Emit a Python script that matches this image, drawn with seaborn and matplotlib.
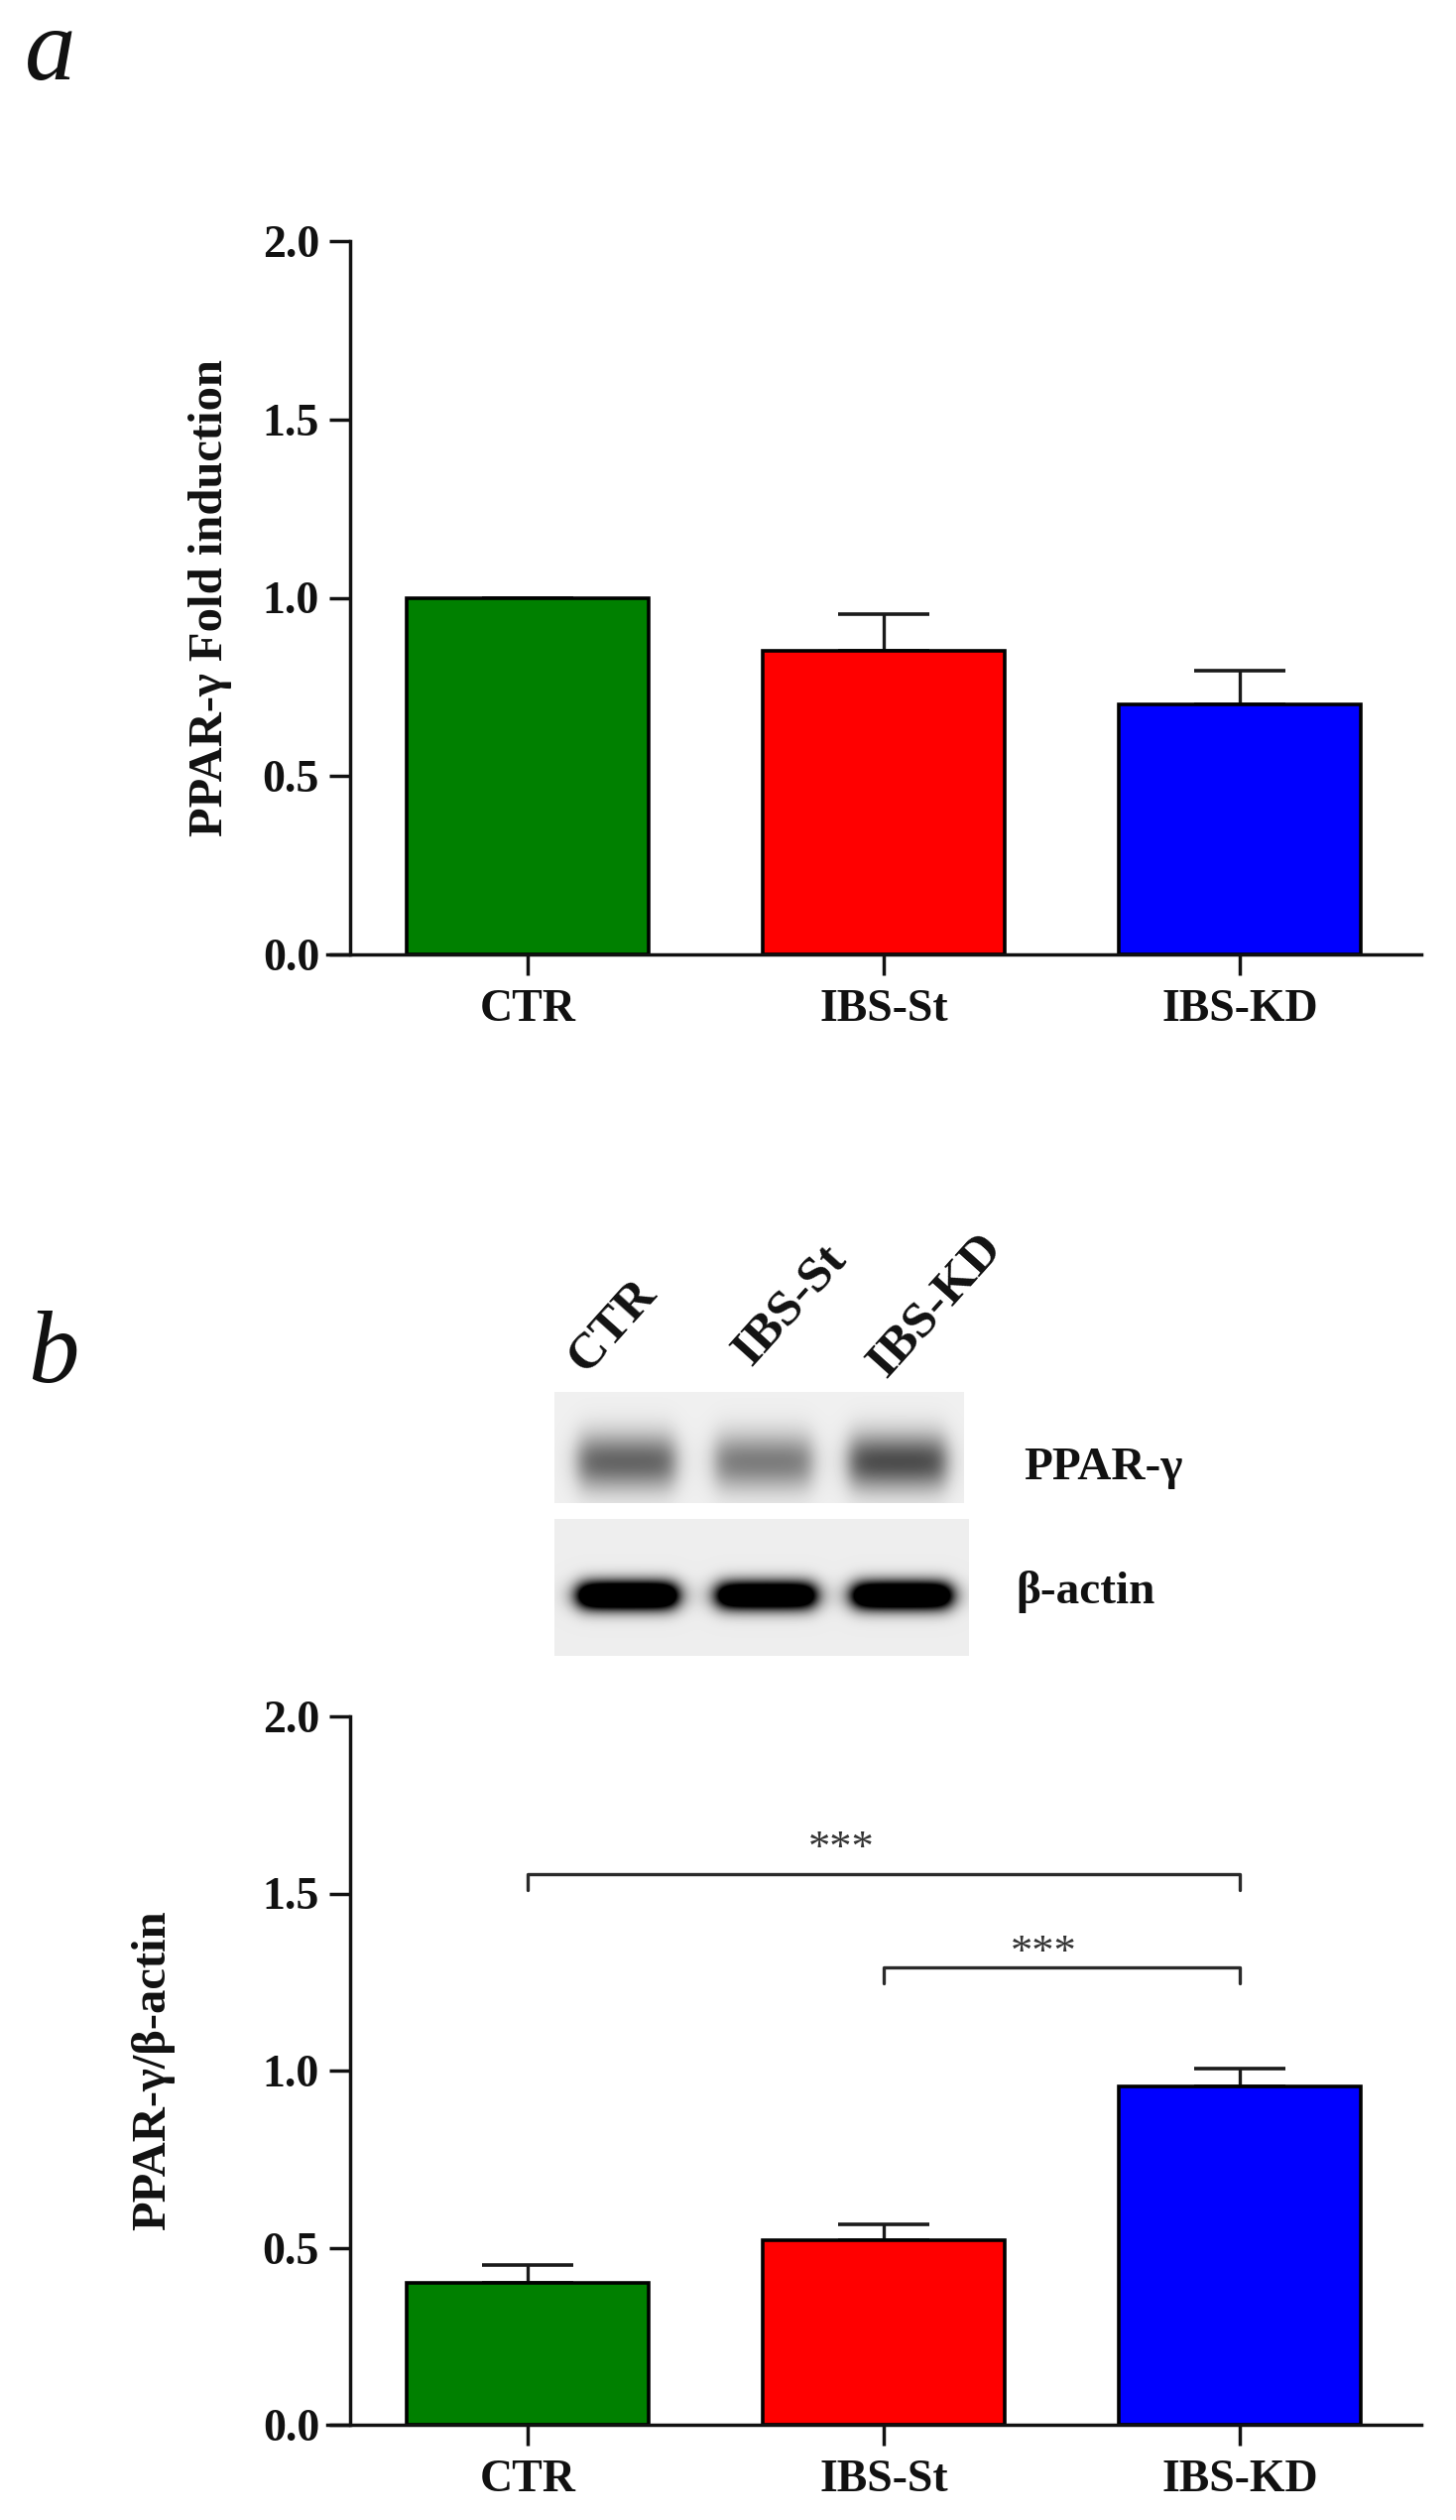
import numpy as np
import pandas as pd
import matplotlib
matplotlib.use("Agg")
import matplotlib.pyplot as plt
import seaborn as sns

# ---------------- data ----------------
categories = ["CTR", "IBS-St", "IBS-KD"]
fold_mean = [1.00, 0.85, 0.70]          # panel a bar heights
fold_err_top = [1.00, 0.955, 0.795]     # panel a upper error-bar ends
ratio_mean = [0.40, 0.52, 0.955]        # panel b bar heights
ratio_err_top = [0.45, 0.565, 1.005]    # panel b upper error-bar ends
bar_colors = ["#008000", "#FF0000", "#0000FF"]
y_ticks = [0.0, 0.5, 1.0, 1.5, 2.0]
y_tick_labels = ["0.0", "0.5", "1.0", "1.5", "2.0"]
sig_pairs = [("CTR", "IBS-KD"), ("IBS-St", "IBS-KD")]
sig_labels = ["***", "***"]
sig_heights = [1.556, 1.292]
blot_lanes = ["CTR", "IBS-St", "IBS-KD"]
blot_rows = ["PPAR-\u03b3", "\u03b2-actin"]
ppar_band = [0.58, 0.48, 0.68]          # relative band darkness
actin_band = [1.00, 0.92, 0.96]

# ---------------- style ----------------
sns.set_theme(style="white")
plt.rcParams["font.family"] = ["Liberation Serif", "DejaVu Serif"]

W, H = 1468, 2540
fig = plt.figure(figsize=(W / 100, H / 100), dpi=100)


def px_axes(x0, y0, x1, y1):
    return fig.add_axes([x0 / W, 1 - y1 / H, (x1 - x0) / W, (y1 - y0) / H])


def draw_bars(ax, means, tops, ylabel, label_x):
    df = pd.DataFrame({"group": categories, "value": means})
    sns.barplot(data=df, x="group", y="value", hue="group", order=categories,
                hue_order=categories, palette=bar_colors, saturation=1,
                width=0.68, edgecolor="black", linewidth=2.6, errorbar=None,
                legend=False, ax=ax)
    up = np.array(tops) - np.array(means)
    xs = np.arange(len(categories))
    ax.errorbar(xs, means, yerr=[np.zeros_like(up), up], fmt="none",
                ecolor="#1a1a1a", elinewidth=2.4, capsize=33, capthick=2.6,
                zorder=0.9)
    ax.set_xlim(-0.563, 2.51)
    ax.set_ylim(0, 2.0)
    for s in ("top", "right"):
        ax.spines[s].set_visible(False)
    ax.spines["left"].set_position(("data", -0.5))
    for s in ("left", "bottom"):
        ax.spines[s].set_color("#111111")
        ax.spines[s].set_linewidth(2.5)
    ax.set_yticks(y_ticks)
    ax.set_yticklabels(y_tick_labels)
    ax.tick_params(axis="both", direction="out", length=15, width=2.5,
                   colors="#111111", labelsize=33, left=True, bottom=True)
    ax.tick_params(axis="y", pad=7)
    ax.tick_params(axis="x", pad=10)
    for lbl in ax.get_xticklabels() + ax.get_yticklabels():
        lbl.set_fontweight("bold")
        lbl.set_color("#111111")
    ax.set_xlabel("")
    ax.set_ylabel(ylabel, fontsize=35, fontweight="bold", color="#111111")
    ax.yaxis.set_label_coords(label_x, 0.5)
    ax.yaxis.label.set_va("center")


# ---------------- panel a ----------------
ax_a = px_axes(330, 243, 1433, 962)
draw_bars(ax_a, fold_mean, fold_err_top, "PPAR-\u03b3 Fold induction", -0.107)
fig.text(25 / W, 1 - 80 / H, "a", fontsize=74, style="italic",
         va="baseline", ha="left", color="#111111")

# ---------------- panel b ----------------
ax_b = px_axes(330, 1730, 1433, 2444)
draw_bars(ax_b, ratio_mean, ratio_err_top, "PPAR-\u03b3/\u03b2-actin", -0.159)
fig.text(28 / W, 1 - 1393 / H, "b", fontsize=74, style="italic",
         va="baseline", ha="left", color="#111111")

star_x = [0.88, 1.45]
star_base = [1.594, 1.300]
for (g1, g2), lab, h, sx, sb in zip(sig_pairs, sig_labels, sig_heights,
                                    star_x, star_base):
    x1, x2 = categories.index(g1), categories.index(g2)
    ax_b.plot([x1, x1, x2, x2], [h - 0.045, h, h, h - 0.045],
              color="#2a2a2a", lw=2.4, clip_on=False, zorder=3)
    ax_b.text(sx, sb, lab, ha="center", va="baseline", fontsize=32,
              color="#333333")

# ---------------- western blot ----------------
lane_pos = [0.176, 0.511, 0.839]


def blot_image(nx, ny, intens, yc, ysig, gain, bg):
    xx = np.linspace(0, 1, nx)
    yy = np.linspace(0, 1, ny)
    dark = np.zeros((ny, nx))
    for c, v in zip(lane_pos, intens):
        xprof = 1 / (1 + np.exp((np.abs(xx - c) - 0.118) / 0.014))
        yprof = np.exp(-0.5 * ((yy - yc) / ysig) ** 2)
        dark += v * np.outer(yprof, xprof)
    return bg * (1 - np.clip(gain * dark, 0, 1))


ax_u = px_axes(559, 1403, 972, 1515)
ax_u.imshow(blot_image(413, 112, ppar_band, 0.63, 0.18, 1.0, 0.94),
            cmap="gray", vmin=0, vmax=1, aspect="auto",
            interpolation="bilinear")
ax_u.set_axis_off()

ax_l = px_axes(559, 1531, 977, 1669)
ax_l.imshow(blot_image(418, 138, actin_band, 0.56, 0.075, 1.9, 0.93),
            cmap="gray", vmin=0, vmax=1, aspect="auto",
            interpolation="bilinear")
ax_l.set_axis_off()

fig.text(1032 / W, 1 - 1480 / H, blot_rows[0], fontsize=34, fontweight="bold",
         ha="left", va="center", color="#111111")
fig.text(1024 / W, 1 - 1604 / H, blot_rows[1], fontsize=34, fontweight="bold",
         ha="left", va="center", color="#111111")

lane_anchor = [(590, 1385), (757, 1378), (893, 1390)]
for name, (lx, ly) in zip(blot_lanes, lane_anchor):
    fig.text(lx / W, 1 - ly / H, name, fontsize=37, fontweight="bold",
             rotation=48, rotation_mode="anchor", ha="left", va="baseline",
             color="#111111")

fig.savefig("out.png", dpi=100, facecolor="white")
